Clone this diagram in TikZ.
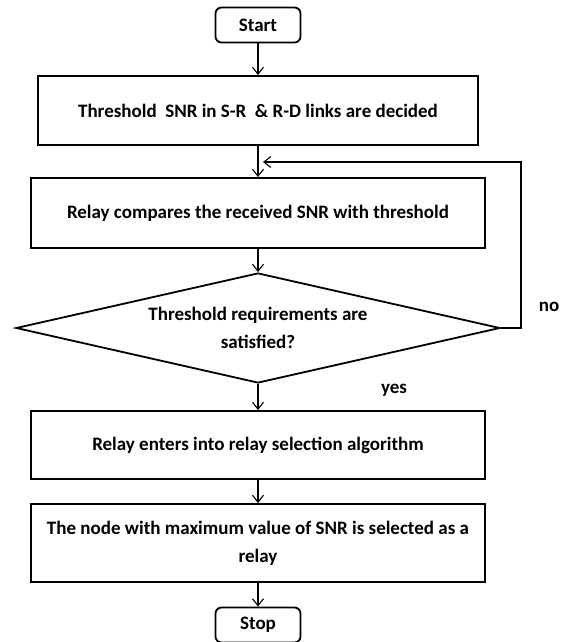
\documentclass[tikz,border=0pt]{standalone}
\usepackage{fontspec}
\setmainfont{Carlito}
\usetikzlibrary{positioning}
\usetikzlibrary{arrows.meta}
\usetikzlibrary{shapes.geometric}
\tikzset{
        flownode/.style={align=center,inner sep=0pt,draw=black,line width=1.8pt,fill=white},
        % Start and stop
        node_terminal/.style={flownode, rectangle, rounded corners=6pt, minimum width=85pt, minimum height=35pt},
        % Process steps
        node_process/.style={flownode, rectangle, minimum width=454pt, minimum height=69pt},
        % Decision
        node_decision/.style={flownode, diamond, aspect=4.4, minimum width=484pt, minimum height=110pt},
        % Branch labels
        node_label/.style={inner sep=0pt}
}

\begin{document}
\begin{tikzpicture}[
            x=1pt, y=-1pt,
            ->, >={Straight Barb[length=7pt,width=11pt]},
            line width=1.1pt,
            font=\fontsize{19}{28}\selectfont\bfseries
        ]
            \useasboundingbox (0,0) rectangle (569,642);
            \node[node_terminal] (start) at (258,25) {Start};
            \node[node_process, minimum width=440pt] (decide) at (258,110.5) {Threshold\ \ SNR in S-R\ \ \& R-D links are decided};
            \node[node_process, minimum height=70pt] (compare) at (258,213) {Relay compares the received SNR with threshold};
            \node[node_decision] (check) at (258,328) {Threshold requirements are\\satisfied?};
            \node[node_process, minimum height=68pt] (enter) at (258,445) {Relay enters into relay selection algorithm};
            \node[node_process, minimum height=78pt] (select) at (258,543) {The node with maximum value of SNR is selected as a\\relay};
            \node[node_terminal] (stop) at (258,625) {Stop};
            \node[node_label] (no) at (549,307) {no};
            \node[node_label] (yes) at (394,390) {yes};
            \coordinate (loop_in) at (263,162);
            \coordinate (loop_right) at (521,162);

            \draw (start) -- (decide);
            \draw (decide) -- (compare);
            \draw (compare) -- (check);
            \draw (check) -- (enter);
            \draw (enter) -- (select);
            \draw (select) -- (stop);
            \draw (check.east) -| (loop_right) -- (loop_in);
        \end{tikzpicture}
\end{document}
